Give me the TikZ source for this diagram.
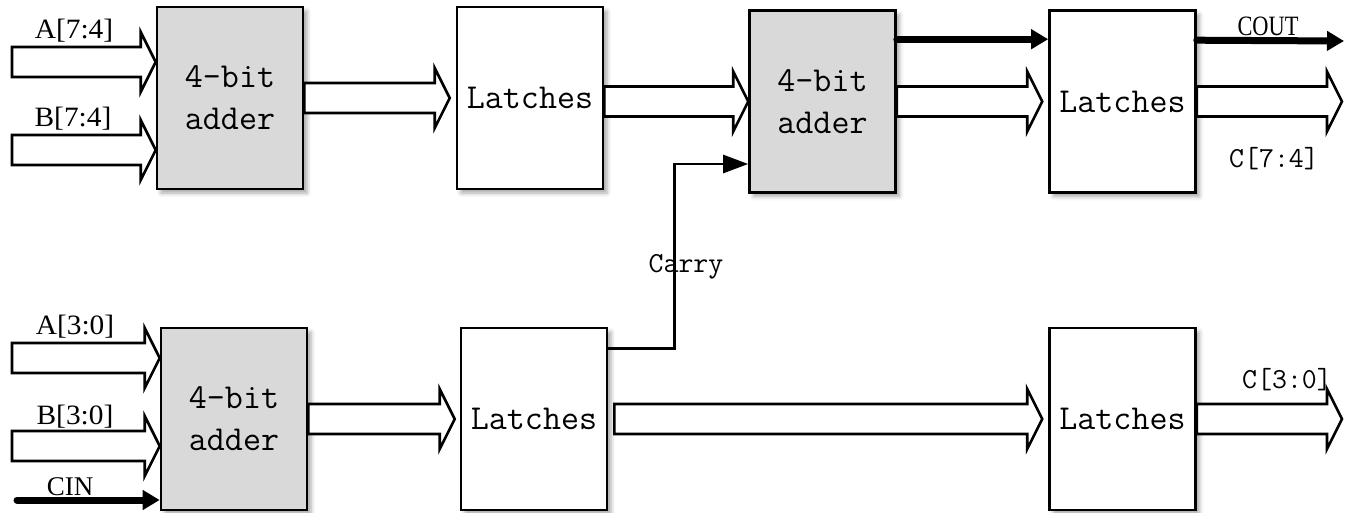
\documentclass[tikz,border=0pt]{standalone}
\usepackage{fontspec}
\usetikzlibrary{calc,arrows.meta,shadows.blur}

\newfontfamily\busfont[FakeStretch=1.05]{Liberation Serif}
\newfontfamily\pinfont{Liberation Serif}
\newfontfamily\coutfont[FakeStretch=0.8]{Liberation Serif}
\definecolor{addfill}{RGB}{217,217,217}

% hollow bus arrow: #1 gives the x of the tail, #2 the tip
\newcommand{\busarrow}[2]{%
  \draw[bus] let \p1=(#1), \p2=(#2) in
    (\x1,\y2+15pt) -- (\x2-15pt,\y2+15pt) -- (\x2-15pt,\y2+30pt) -- (\x2,\y2)
    -- (\x2-15pt,\y2-30pt) -- (\x2-15pt,\y2-15pt) -- (\x1,\y2-15pt) -- cycle;}

\begin{document}
\begin{tikzpicture}[x=1pt,y=-1pt,
    box/.style={draw,line width=2.6pt,minimum width=146pt,minimum height=182pt,
      inner sep=0pt,align=center,font=\ttfamily\fontsize{35}{42}\selectfont,
      blur shadow={shadow xshift=4pt,shadow yshift=-4pt,shadow blur radius=4pt,shadow opacity=35}},
    adder/.style={box,fill=addfill},
    latch/.style={box,fill=white},
    bus/.style={line width=2.6pt,fill=white},
    wire/.style={line width=2.6pt,-{Triangle[length=25pt,width=18pt]}},
    heavy/.style={line width=7pt,line cap=round,-{Triangle[length=17pt,width=19pt]}},
    buslabel/.style={anchor=base,inner sep=0pt,font=\busfont\fontsize{28}{32}\selectfont},
    pinlabel/.style={anchor=base,inner sep=0pt,font=\pinfont\fontsize{27}{31}\selectfont},
    outlabel/.style={anchor=base,inner sep=0pt,font=\ttfamily\fontsize{29}{34}\selectfont}]
    \useasboundingbox (0,0) rectangle (1345,512);

    \node[adder] (add1) at (230,98) {4-bit\\adder};
    \node[latch] (lat1) at (530,98) {Latches};
    \node[adder] (add2) at (822.5,101.5) {4-bit\\adder};
    \node[latch] (lat2) at (1122.5,101.5) {Latches};

    \node[adder] (add3) at (234,419) {4-bit\\adder};
    \node[latch] (lat3) at (534,419) {Latches};
    \node[latch] (lat4) at (1122.5,419) {Latches};

    \coordinate (ina1) at (12,62);
    \coordinate (inb1) at (12,150);
    \coordinate (ina0) at (12,358);
    \coordinate (inb0) at (12,446);
    \coordinate (cin) at (17,500);
    \coordinate (c74) at (1342,101.5);
    \coordinate (c30) at (1342,419);
    \coordinate (cout) at (1344,41);

    \busarrow{ina1}{add1.west |- ina1}
    \node[buslabel] (la1) at ($(ina1)+(62,-24)$) {A[7:4]};
    \busarrow{inb1}{add1.west |- inb1}
    \node[buslabel] (lb1) at ($(inb1)+(61,-24)$) {B[7:4]};

    \busarrow{ina0}{add3.west |- ina0}
    \node[buslabel] (la0) at ($(ina0)+(63,-24)$) {A[3:0]};
    \busarrow{inb0}{add3.west |- inb0}
    \node[buslabel] (lb0) at ($(inb0)+(63,-22)$) {B[3:0]};

    \draw[heavy] (cin) -- (add3.west |- cin);
    \node[pinlabel] (lcin) at ($(cin)+(53,-5)$) {CIN};

    \busarrow{add1.east}{$(lat1.west)+(-6,0)$}
    \busarrow{lat1.east}{add2.west}
    \busarrow{add2.east}{$(lat2.west)+(-6,0)$}
    \busarrow{lat2.east}{c74}
    \node[outlabel] (lc74) at ($(c74)+(-68,65.5)$) {C[7:4]};

    \busarrow{add3.east}{$(lat3.west)+(-5,0)$}
    \busarrow{$(lat3.east)+(6,0)$}{$(lat4.west)+(-6,0)$}
    \busarrow{lat4.east}{c30}
    \node[outlabel] (lc30) at ($(c30)+(-55,-31)$) {C[3:0]};

    \draw[heavy] ($(add2.north east)+(0,30)$) -- ($(lat2.north west)+(0,30)$);
    \draw[heavy] ($(lat2.north east)+(0,31)$) -- (cout);
    \node[pinlabel,font=\coutfont\fontsize{28}{32}\selectfont] (lcout) at (1268,35) {COUT};

    \draw[wire] ($(lat3.north east)+(0,22)$) -- ++(66,0) |- ($(add2.west)+(0,62.5)$);
    \node[outlabel] (lcarry) at (686,272) {Carry};
\end{tikzpicture}
\end{document}
